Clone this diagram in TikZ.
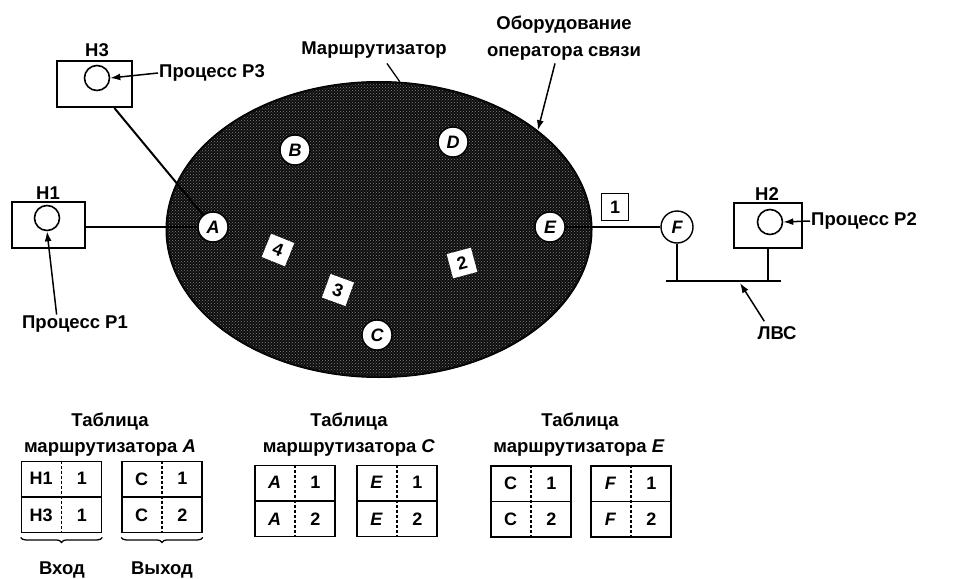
\documentclass[tikz,border=0pt]{standalone}
\usepackage{fontspec}
\setmainfont{Liberation Sans}
\usetikzlibrary{shapes.geometric,arrows.meta,calc,decorations.pathreplacing,patterns}
\newcommand{\rtab}[7]{%
  \node[tbox] (#1) at (#2,#3) {};
  \draw[tline] (#1.west) -- (#1.east);
  \draw[tline,densely dashed] (#1.north) -- (#1.south);
  \node[cell] (#1a) at ($(#1.north west)!0.25!(#1.south east)$) {#4};
  \node[cell] (#1b) at ($(#1.north east)!0.25!(#1.south west)$) {#5};
  \node[cell] (#1c) at ($(#1.north east)!0.75!(#1.south west)$) {#6};
  \node[cell] (#1d) at ($(#1.north west)!0.75!(#1.south east)$) {#7};
}
\begin{document}
\begin{tikzpicture}[x=1pt,y=-1pt,
  lbl/.style={font=\fontsize{18.5}{20}\selectfont\bfseries, inner sep=1pt},
  router/.style={circle, draw, line width=1.4pt, fill=white, minimum size=30pt, inner sep=0pt, font=\fontsize{18}{20}\selectfont\bfseries\itshape},
  pkt/.style={rectangle, fill=white, minimum size=25pt, inner sep=0pt, font=\fontsize{18}{20}\selectfont\bfseries},
  host/.style={rectangle, draw, line width=2pt, inner sep=0pt},
  proc/.style={circle, draw, line width=1.6pt, minimum size=25pt, inner sep=0pt},
  wire/.style={line width=2pt},
  arr/.style={line width=1.5pt, -{Latex[length=10pt,width=7pt]}},
  tbox/.style={rectangle, draw, line width=1.8pt, minimum width=80pt, minimum height=71pt, inner sep=0pt},
  tline/.style={line width=1.3pt},
  cell/.style={font=\fontsize{18}{20}\selectfont\bfseries, inner sep=0pt}
]
\useasboundingbox (0,0) rectangle (968,578);

% network cloud
\node[ellipse, draw, line width=1pt, fill=black!95, minimum width=426pt, minimum height=296pt, inner sep=0pt] (net) at (379,229.5) {};
\fill[pattern=crosshatch dots, pattern color=black!50] (net.center) ellipse [x radius=211pt, y radius=146pt];

% routers
\node[router] (A) at (213,227) {A};
\node[router] (B) at (295,150) {B};
\node[router] (D) at (453,142) {D};
\node[router] (E) at (550,227) {E};
\node[router] (C) at (377,335) {C};
\node[router, minimum size=32pt] (F) at (677,227) {F};

% packets
\node[pkt, rotate=-22] (k4) at (278,250) {4};
\node[pkt, rotate=-20] (k3) at (338,290) {3};
\node[pkt, rotate=15] (k2) at (462,263) {2};
\node[rectangle, draw, line width=1.8pt, minimum width=27pt, minimum height=27pt, inner sep=0pt, font=\fontsize{18}{20}\selectfont\bfseries] (k1) at (615,207) {1};

% hosts
\node[host, minimum width=75pt, minimum height=46pt] (h3) at (94.5,84) {};
\node[host, minimum width=73pt, minimum height=46pt] (h1) at (48.5,225) {};
\node[host, minimum width=68pt, minimum height=45pt] (h2) at (768,225.5) {};
\node[proc] (p3) at (97,78) {};
\node[proc] (p1) at (47,218) {};
\node[proc] (p2) at (770,222) {};
\node[lbl] (h3l) at (97,50) {H3};
\node[lbl] (h1l) at (48,193) {H1};
\node[lbl] (h2l) at (767,194) {H2};

% links
\draw[wire] (h3) -- (A);
\draw[wire] (h1.east |- A) -- (A);
\draw[wire] (E) -- (F);
\coordinate (lanL) at (666,281);
\coordinate (lanR) at (781,281);
\coordinate (lanpt) at (740,283);
\draw[wire] (lanL) -- (lanR);
\draw[wire] (F.south) -- (F.south |- lanL);
\draw[wire] (h2.south) -- (h2.south |- lanL);

% labels
\node[lbl, anchor=west] (p3l) at (158,73) {Процесс P3};
\node[lbl] (p1l) at (75,324) {Процесс P1};
\node[lbl, anchor=west] (p2l) at (810,221) {Процесс P2};
\node[lbl] (ml) at (374,50) {Маршрутизатор};
\node[lbl, align=center, font=\fontsize{18.5}{27}\selectfont\bfseries] (obl) at (564,38) {Оборудование\\оператора связи};
\node[lbl] (lvs) at (777,333) {ЛВС};

\draw[arr] (p3l.west) -- (p3.east);
\draw[arr] ($(p1l.north west)!0.33!(p1l.north east)$) -- (p1.south);
\draw[arr] (p2l.west) -- (p2.east);
\draw[arr] ($(obl.south)+(-9,2)$) -- (net.32);
\draw[line width=1.3pt] ($(ml.south)+(13,4)$) -- (net.82);
\draw[arr] ($(lvs.north west)+(8,-4)$) -- (lanpt);

% routing tables
\node[lbl] (tA1) at (110,422) {Таблица};
\node[lbl] (tA2) at (110,448) {маршрутизатора \textit{A}};
\node[lbl] (tC1) at (349,422) {Таблица};
\node[lbl] (tC2) at (349,448) {маршрутизатора \textit{C}};
\node[lbl] (tE1) at (580,422) {Таблица};
\node[lbl] (tE2) at (579,448) {маршрутизатора \textit{E}};

\rtab{a1}{61.5}{497}{H1}{1}{H3}{1}
\rtab{a2}{162}{497}{C}{1}{C}{2}
\rtab{c1}{295}{501}{\textit{A}}{1}{\textit{A}}{2}
\rtab{c2}{397}{501}{\textit{E}}{1}{\textit{E}}{2}
\rtab{e1}{531}{501.5}{C}{1}{C}{2}
\rtab{e2}{631}{501.5}{\textit{F}}{1}{\textit{F}}{2}

\draw[tline, decorate, decoration={brace, mirror, amplitude=5pt}] ([yshift=-4pt]a1.south west) -- ([yshift=-4pt]a1.south east);
\draw[tline, decorate, decoration={brace, mirror, amplitude=5pt}] ([yshift=-4pt]a2.south west) -- ([yshift=-4pt]a2.south east);
\node[lbl] (vin) at (62,570) {Вход};
\node[lbl] (vout) at (162,570) {Выход};
\end{tikzpicture}
\end{document}
